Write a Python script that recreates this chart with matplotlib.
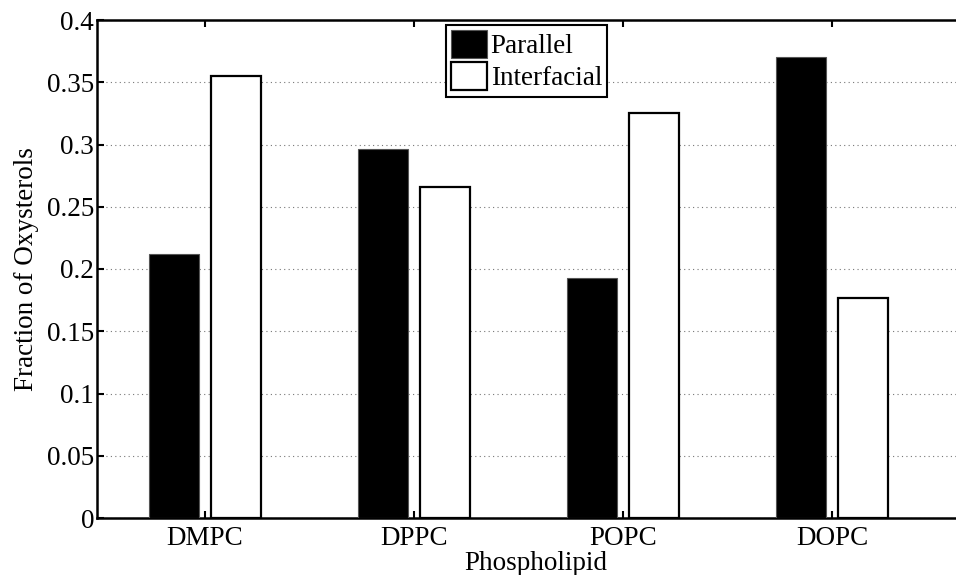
import numpy as np
import matplotlib.pyplot as plt

lipids = ["DMPC", "DPPC", "POPC", "DOPC"]
parallel = [0.212, 0.296, 0.193, 0.370]
interfacial = [0.355, 0.266, 0.325, 0.177]
yticks = [0, 0.05, 0.1, 0.15, 0.2, 0.25, 0.3, 0.35, 0.4]
ytick_labels = ["0", "0.05", "0.1", "0.15", "0.2", "0.25", "0.3", "0.35", "0.4"]

plt.rcParams['font.family'] = ['Liberation Serif', 'DejaVu Serif']
plt.rcParams['font.size'] = 19.5

fig = plt.figure(figsize=(9.56, 5.75), dpi=100)
# axes runs a bit past the right edge of the figure
ax = fig.add_axes([97/956, 1 - 518/575, (975 - 97)/956, (518 - 20)/575])

x = np.arange(1, len(lipids) + 1)
w = 0.24
off = 0.15
ax.bar(x - off, parallel, w, color='black', edgecolor='#555555', linewidth=0.8,
       label='Parallel', zorder=3)
ax.bar(x + off, interfacial, w, color='white', edgecolor='black', linewidth=1.6,
       label='Interfacial', zorder=3)

ax.set_xlim(0.483, 4 + (975 - 832) / 209)
ax.set_ylim(0, 0.4)
ax.set_xticks(x)
ax.set_xticklabels(lipids)
ax.set_yticks(yticks)
ax.set_yticklabels(ytick_labels)
ax.yaxis.grid(True, linestyle=(0, (1, 3)), color='#777777', linewidth=0.8, zorder=0)
ax.tick_params(direction='in', length=5, width=1.5, top=True, right=True, pad=2)
ax.tick_params(axis='x', pad=6)
for s in ax.spines.values():
    s.set_linewidth(1.8)

ax.set_xlabel("Phospholipid", labelpad=0)
ax.set_ylabel("Fraction of Oxysterols", labelpad=6)

leg = ax.legend(loc='upper left', bbox_to_anchor=(446/956, 1 - 25/575),
                bbox_transform=fig.transFigure, fancybox=False, framealpha=1,
                edgecolor='black', borderpad=0.2, handlelength=1.3,
                handleheight=1.2, handletextpad=0.15, labelspacing=0.1,
                borderaxespad=0)
leg.get_frame().set_linewidth(1.5)

fig.savefig("out.png", dpi=100)
